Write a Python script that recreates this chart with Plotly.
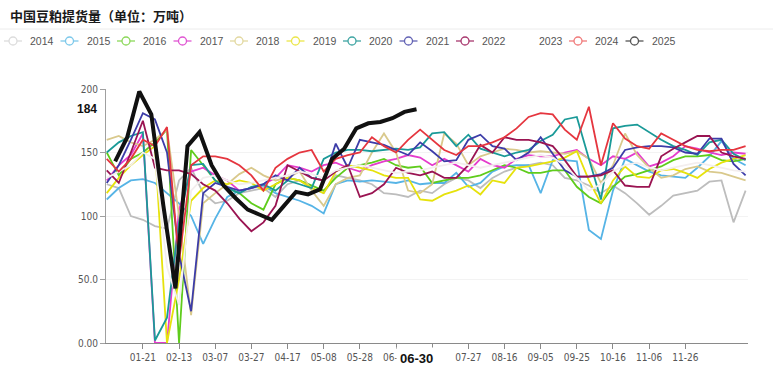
import plotly.graph_objects as go

# ---- categories (weekly, base calendar) ----
week_labels = ["01-01","01-07","01-14","01-21","01-28","02-05","02-13","02-20","02-27","03-07",
               "03-13","03-20","03-27","04-03","04-10","04-17","04-24","05-01","05-08","05-14",
               "05-21","05-28","06-04","06-11","06-18","06-25","07-01","07-07","07-14","07-20",
               "07-27","08-02","08-09","08-16","08-22","08-29","09-05","09-11","09-18","09-25",
               "10-02","10-09","10-16","10-23","10-30","11-06","11-13","11-20","11-26","12-03",
               "12-10","12-17","12-24","12-31"]
tick_labels = ["01-21","02-13","03-07","03-27","04-17","05-08","05-28","06-18","07-07",
               "07-27","08-16","09-05","09-25","10-16","11-06","11-26"]
hidden_tick = "07-07"   # covered by the 06-30 marker in the original

# ---- series (万吨) ----
v2014 = [125,122,100,97,92,90,128,138,118,110,112,118,120,
         122,115,125,128,122,118,132,130,128,125,118,117,115,120,
         118,125,130,128,122,130,135,138,140,142,140,130,128,124,
         118,124,118,110,101,108,116,118,120,127,128,95,120]
v2015 = [113,122,128,129,126,118,110,100,78,98,115,120,122,
         124,118,115,112,108,102,125,128,127,128,127,126,128,125,
         126,126,134,123,126,135,139,140,140,118,144,144,143,89,
         82,120,145,140,135,132,131,130,138,147,159,145,140]
v2016 = [150,132,145,150,158,168,0,152,140,128,122,118,110,
         105,125,130,128,124,120,130,138,140,142,145,140,138,139,
         126,128,130,130,132,136,140,138,134,134,136,136,123,115,
         110,123,131,133,136,139,144,147,147,148,144,143,145]
v2017 = [128,140,148,165,0,0,105,135,138,132,128,120,122,
         125,130,140,138,135,140,142,138,135,140,143,145,148,146,
         140,145,140,135,145,140,138,145,148,147,147,150,152,145,
         140,147,145,150,139,142,147,155,153,150,148,150,149]
v2018 = [160,163,158,155,160,168,100,22,110,118,125,133,138,
         132,128,130,135,120,108,125,130,132,150,165,150,120,118,
         125,165,157,140,147,150,153,152,150,151,150,149,151,145,
         126,140,165,148,138,130,132,137,139,135,134,131,128]
v2019 = [118,130,140,148,155,0,50,112,122,128,125,128,126,
         120,125,130,128,122,118,135,140,138,136,132,130,130,113,
         112,117,120,124,117,128,126,138,139,141,143,146,151,128,
         110,128,139,131,130,136,137,134,130,137,142,145,148]
v2020 = [150,158,163,166,2,20,95,140,141,128,122,118,123,
         125,120,128,125,122,145,150,152,152,151,152,153,152,154,
         165,166,155,164,153,150,147,150,152,159,164,176,178,145,
         113,169,171,172,166,160,155,152,148,158,160,149,144]
v2021 = [126,140,160,181,176,150,70,25,118,126,123,120,122,
         125,132,128,138,130,128,157,138,160,158,156,152,148,158,
         151,143,144,160,164,155,153,144,150,162,149,136,131,131,
         133,138,152,154,155,155,154,150,149,161,161,141,132]
v2022 = [136,126,150,175,138,136,136,133,125,120,110,98,88,
         95,108,140,135,130,128,135,140,115,118,125,138,134,132,
         135,130,130,140,156,150,162,160,160,158,155,144,131,131,
         132,136,124,123,123,147,153,158,163,163,150,147,145]
v2023 = [130,135,140,150,145,60,30,120,130,132,128,125,126,
         128,130,132,135,133,130,136,138,140,138,136,134,135,136,
         138,140,142,140,138,140,142,144,146,148,146,140,130,120,
         125,135,140,142,138,136,138,140,142,140,138,136,135]
v2024 = [145,135,145,160,155,170,64,140,147,147,145,140,132,
         120,138,145,150,152,135,145,148,150,162,155,150,160,168,
         160,152,148,155,155,158,162,169,178,181,180,168,160,186,
         140,173,161,155,153,165,160,155,152,151,152,152,155]
v2025 = [143,162,198,180,108,43,155,166,140,124,114,105,101,97,108,119,117,121,
         145,153,169,173,174,177,182,184]
latest_label = "06-30"

years = ["2014","2015","2016","2017","2018","2019","2020","2021","2022","2023","2024","2025"]
series = [v2014,v2015,v2016,v2017,v2018,v2019,v2020,v2021,v2022,v2023,v2024,v2025]
colors = ["#bdbdbd","#56b4e6","#5fcc1c","#e53ccc","#d9c98c","#e6e20c","#1a9a98",
          "#3c3ca8","#9a1452","#f3eeee","#e5363f","#111111"]
legend_colors = ["#dcdcdc","#7cc8ea","#8cd85a","#e055d2","#e2d8a0","#ebe64a","#3fa5a3",
                 "#6262b4","#a8386e","#ffffff","#f07a7a","#555555"]

x_hist = list(range(len(week_labels)))
x_2025 = [k + 0.7 for k in range(len(v2025))]

fig = go.Figure()
for yr, vals, c in zip(years, series, colors):
    is_cur = yr == "2025"
    fig.add_trace(go.Scatter(
        x=x_2025 if is_cur else x_hist[:len(vals)], y=vals, mode="lines", name=yr,
        line=dict(color=c, width=4 if is_cur else 1.8),
        showlegend=False, hoverinfo="skip"))

tickvals = [week_labels.index(t) for t in tick_labels]
ticktext = ["" if t == hidden_tick else t for t in tick_labels]

axis_font = dict(family="Liberation Sans Narrow, DejaVu Sans Condensed, Liberation Sans, Arial", size=10, color="#555")

L, R, T, B = 106, 25, 89, 38
W, H = 773, 381
PW, PH = W - L - R, H - T - B

def px_x(px):  # container pixel -> paper x
    return (px - L) / PW

def px_y(py):  # container pixel (from top) -> paper y
    return (H - B - py) / PH

fig.update_layout(
    width=W, height=H,
    margin=dict(l=L, r=R, t=T, b=B),
    paper_bgcolor="white", plot_bgcolor="white",
    font=dict(family="Liberation Sans, Arial", color="#555"),
    showlegend=False,
    xaxis=dict(range=[-0.06, 53.2], tickmode="array", tickvals=tickvals, ticktext=ticktext,
               showgrid=False, zeroline=False, showline=True, linecolor="#8a8a8a", linewidth=1,
               ticks="outside", ticklen=5, tickcolor="#8a8a8a", tickfont=axis_font),
    yaxis=dict(range=[0, 200], tickmode="array", tickvals=[0, 50, 100, 150, 200],
               ticktext=["0.00", "50.0", "100", "150", "200"],
               showgrid=True, gridcolor="#f3f3f3", zeroline=False,
               showline=True, linecolor="#a0a0a0", linewidth=1,
               ticks="outside", ticklen=5, tickcolor="#a0a0a0", tickfont=axis_font),
)

# legend drawn by hand (line + open circle + label)
leg_y = 41
for k, (yr, lc) in enumerate(zip(years, legend_colors)):
    tx = 28 + 56.5 * k
    cx = tx - 15
    fig.add_shape(type="line", xref="paper", yref="paper",
                  x0=px_x(cx - 9), x1=px_x(cx + 9), y0=px_y(leg_y), y1=px_y(leg_y),
                  line=dict(color=lc, width=1.3))
    fig.add_shape(type="circle", xref="paper", yref="paper",
                  x0=px_x(cx - 4), x1=px_x(cx + 4), y0=px_y(leg_y + 4), y1=px_y(leg_y - 4),
                  line=dict(color=lc, width=1.3), fillcolor="white")
    fig.add_annotation(text=yr, xref="paper", yref="paper", x=px_x(tx), y=px_y(leg_y),
                       xanchor="left", yanchor="middle", showarrow=False,
                       font=dict(family="Liberation Sans, Arial", size=10.5, color="#555"))

# title
fig.add_annotation(text="<b>中国豆粕提货量（单位：万吨）</b>", xref="paper", yref="paper",
                   x=px_x(8), y=px_y(15), xanchor="left", yanchor="middle", showarrow=False,
                   font=dict(family="Noto Sans CJK SC", size=13, color="#1a1a1a"))
# separator line under title
fig.add_shape(type="line", xref="paper", yref="paper", x0=px_x(0), x1=px_x(W),
              y0=px_y(29), y1=px_y(29), line=dict(color="#ececec", width=1))

# latest value markers
fig.add_annotation(text="<b>%d</b>" % v2025[-1], xref="paper", yref="y", x=px_x(99), y=v2025[-1],
                   xanchor="right", yanchor="middle", showarrow=False,
                   font=dict(family="Liberation Sans, Arial", size=12, color="#111"))
fig.add_annotation(text="<b>%s</b>" % latest_label, xref="x", yref="paper", x=x_2025[-1], y=px_y(358),
                   xanchor="center", yanchor="middle", showarrow=False, bgcolor="white", borderpad=3,
                   font=dict(family="Liberation Sans, Arial", size=13, color="#111"))

fig.write_html("out.html", config={"displayModeBar": False},
               post_script="document.body.style.margin='0';document.body.style.overflow='hidden';")
